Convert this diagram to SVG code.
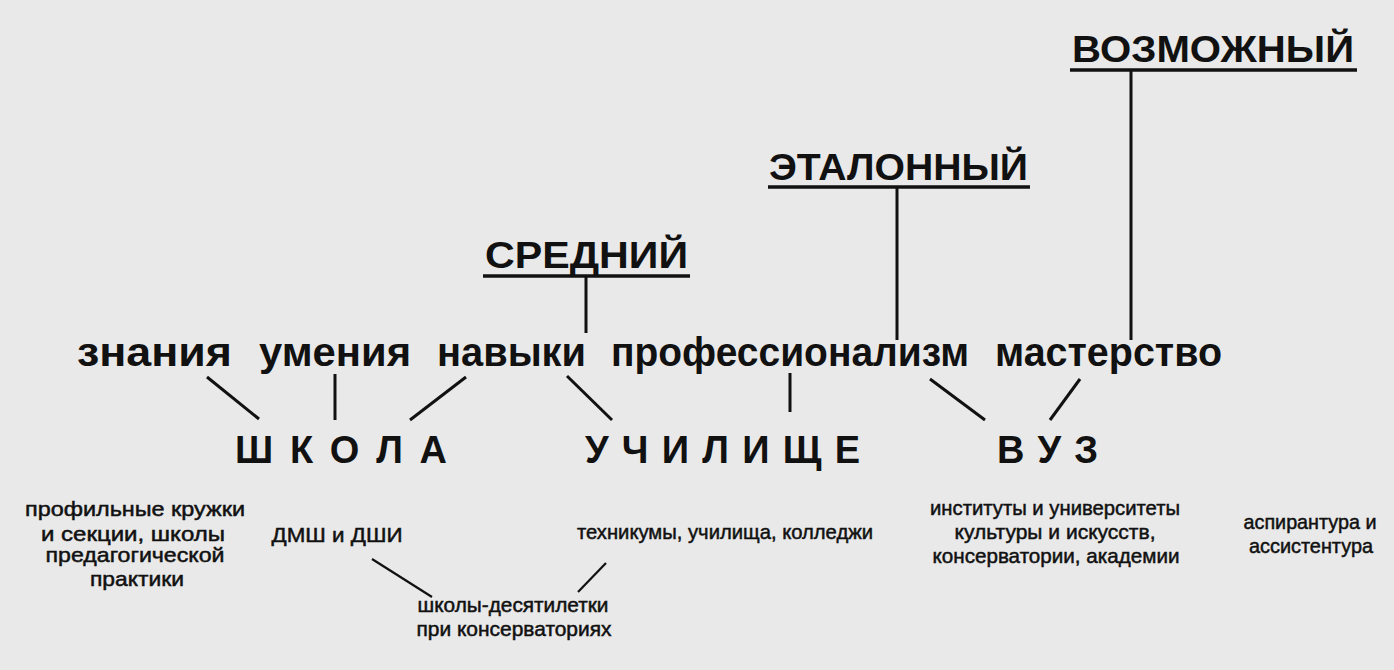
<svg xmlns="http://www.w3.org/2000/svg" width="1394" height="670" viewBox="0 0 1394 670">
<style>
.bg{fill:#e9e9e9}
.hd{font-family:"Liberation Sans",Arial,sans-serif;font-weight:bold;font-size:36px;fill:#111}
.mw{font-family:"Liberation Sans",Arial,sans-serif;font-weight:bold;font-size:40px;fill:#111}
.inst{font-family:"Liberation Sans",Arial,sans-serif;font-weight:bold;font-size:38px;fill:#111}
.sm{font-family:"Liberation Sans",Arial,sans-serif;font-size:21px;fill:#111;stroke:#111;stroke-width:0.5;text-anchor:middle}
.ln{stroke:#111;stroke-width:3;fill:none}
.ul{stroke:#111;stroke-width:3.5;fill:none}
.thin{stroke:#111;stroke-width:2.2;fill:none}
</style>
<rect class="bg" x="0" y="0" width="1394" height="670"/>
<g id="connectors">
<line class="ul" x1="1070" y1="70" x2="1357" y2="70"/>
<line class="ul" x1="768" y1="187" x2="1030" y2="187"/>
<line class="ul" x1="483" y1="276" x2="690" y2="276"/>
<line class="ln" x1="1131" y1="70" x2="1131" y2="340"/>
<line class="ln" x1="897" y1="187" x2="897" y2="340"/>
<line class="ln" x1="586" y1="276" x2="586" y2="333"/>
<line class="ln" x1="207" y1="377" x2="259" y2="419"/>
<line class="ln" x1="335" y1="374" x2="335" y2="420"/>
<line class="ln" x1="466" y1="377" x2="410" y2="420"/>
<line class="ln" x1="567" y1="376" x2="612" y2="420"/>
<line class="ln" x1="790" y1="373" x2="790" y2="412"/>
<line class="ln" x1="930" y1="379" x2="985" y2="420"/>
<line class="ln" x1="1080" y1="379" x2="1050" y2="420"/>
<line class="thin" x1="372" y1="559" x2="432" y2="597"/>
<line class="thin" x1="606" y1="563" x2="578" y2="592"/>
</g>
<g id="vozmozhny"><text class="hd" x="1072" y="62" textLength="282" lengthAdjust="spacingAndGlyphs">ВОЗМОЖНЫЙ</text></g>
<g id="etalonny"><text class="hd" x="769" y="180" textLength="259" lengthAdjust="spacingAndGlyphs">ЭТАЛОННЫЙ</text></g>
<g id="sredny"><text class="hd" x="485" y="268" textLength="203" lengthAdjust="spacingAndGlyphs">СРЕДНИЙ</text></g>
<g id="znaniya"><text class="mw" x="77" y="366" textLength="155" lengthAdjust="spacingAndGlyphs">знания</text></g>
<g id="umeniya"><text class="mw" x="259" y="366" textLength="152" lengthAdjust="spacingAndGlyphs">умения</text></g>
<g id="navyki"><text class="mw" x="437" y="366" textLength="149" lengthAdjust="spacingAndGlyphs">навыки</text></g>
<g id="professionalizm"><text class="mw" x="611" y="366" textLength="358" lengthAdjust="spacingAndGlyphs">профессионализм</text></g>
<g id="masterstvo"><text class="mw" x="995" y="366" textLength="227" lengthAdjust="spacingAndGlyphs">мастерство</text></g>
<g id="shkola"><text class="inst" x="235" y="463" textLength="212" lengthAdjust="spacing">Ш К О Л А</text></g>
<g id="uchilishche"><text class="inst" x="585" y="463" textLength="275" lengthAdjust="spacing">У Ч И Л И Щ Е</text></g>
<g id="vuz"><text class="inst" x="997" y="463" textLength="101" lengthAdjust="spacing">В У З</text></g>
<g id="kruzhki">
<text class="sm" x="135" y="516" textLength="220" lengthAdjust="spacingAndGlyphs">профильные кружки</text>
<text class="sm" x="133" y="541" textLength="184" lengthAdjust="spacingAndGlyphs">и секции, школы</text>
<text class="sm" x="135" y="562" textLength="179" lengthAdjust="spacingAndGlyphs">предагогической</text>
<text class="sm" x="137" y="586" textLength="94" lengthAdjust="spacingAndGlyphs">практики</text>
</g>
<g id="dmsh"><text class="sm" x="337" y="542" textLength="131" lengthAdjust="spacingAndGlyphs">ДМШ и ДШИ</text></g>
<g id="tekhnikumy"><text class="sm" x="725" y="539" textLength="296" lengthAdjust="spacingAndGlyphs">техникумы, училища, колледжи</text></g>
<g id="desyatiletki">
<text class="sm" x="513" y="612" textLength="191" lengthAdjust="spacingAndGlyphs">школы-десятилетки</text>
<text class="sm" x="514" y="636" textLength="195" lengthAdjust="spacingAndGlyphs">при консерваториях</text>
</g>
<g id="instituty">
<text class="sm" x="1055" y="515" textLength="250" lengthAdjust="spacingAndGlyphs">институты и университеты</text>
<text class="sm" x="1055" y="539" textLength="201" lengthAdjust="spacingAndGlyphs">культуры и искусств,</text>
<text class="sm" x="1056" y="563" textLength="247" lengthAdjust="spacingAndGlyphs">консерватории, академии</text>
</g>
<g id="aspirantura">
<text class="sm" x="1310" y="529" textLength="133" lengthAdjust="spacingAndGlyphs">аспирантура и</text>
<text class="sm" x="1311" y="553" textLength="124" lengthAdjust="spacingAndGlyphs">ассистентура</text>
</g>
</svg>
